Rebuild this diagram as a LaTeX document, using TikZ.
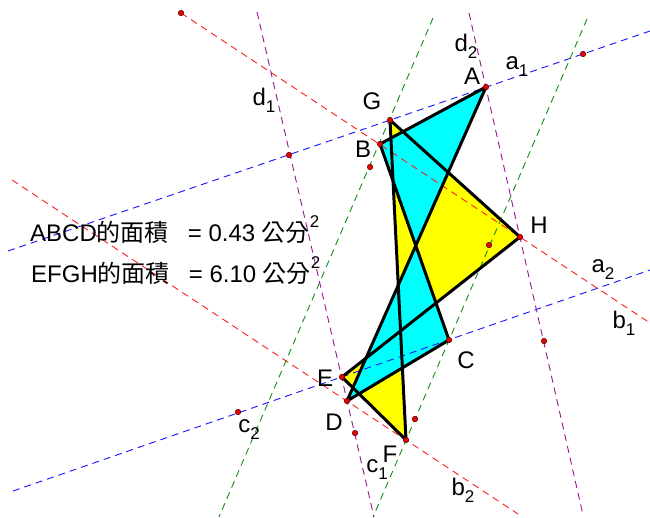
\documentclass[tikz,border=0pt]{standalone}
\usepackage{fontspec}
\setmainfont{Liberation Sans}
\newfontfamily\cjk{Noto Sans CJK TC}
\usepackage{tikz}
\usetikzlibrary{positioning}
\definecolor{GuideRed}{RGB}{255,30,30}
\definecolor{GuideBlue}{RGB}{20,20,255}
\definecolor{GuideGreen}{RGB}{20,140,20}
\definecolor{GuidePurple}{RGB}{150,20,150}
\definecolor{QuadCyan}{RGB}{0,255,255}
\definecolor{QuadYellow}{RGB}{255,255,0}
\definecolor{VtxRed}{RGB}{235,0,0}
\newcommand{\lowidx}[1]{\raisebox{-0.55ex}{\fontsize{17}{17}\selectfont #1}}
\newcommand{\supidx}[1]{\raisebox{1.05ex}{\fontsize{17}{17}\selectfont #1}}

\begin{document}
\begin{tikzpicture}[
  x=1pt, y=-1pt,
  guide/.style={dash pattern=on 7pt off 5pt, line width=0.9pt},
  edge/.style={draw=black, line width=3pt, line join=round},
  vtx/.style={circle, inner sep=0pt, minimum size=5.5pt, fill=VtxRed, draw=black!70!red, line width=0.5pt},
  lbl/.style={font=\fontsize{24}{24}\selectfont, inner sep=0pt},
  area/.style={font=\fontsize{24}{24}\selectfont, inner sep=0pt, anchor=base west}
]
  \useasboundingbox (0,0) rectangle (650,517);

  % vertices of the two quadrilaterals
  \coordinate (A) at (486,87);
  \coordinate (B) at (380,144);
  \coordinate (C) at (449,340);
  \coordinate (D) at (347,401);
  \coordinate (E) at (342,377);
  \coordinate (F) at (406,440);
  \coordinate (G) at (390,120);
  \coordinate (H) at (520,237);

  % ends of the guide lines
  \coordinate (a1w) at (8,251);    \coordinate (a1e) at (650,31);
  \coordinate (a2w) at (13,491);   \coordinate (a2e) at (650,270);
  \coordinate (b1w) at (181,13);   \coordinate (b1e) at (650,323);
  \coordinate (b2w) at (12,180);   \coordinate (b2e) at (518,514);
  \coordinate (c1n) at (587,19);   \coordinate (c1s) at (373,517);
  \coordinate (c2n) at (433,18);   \coordinate (c2s) at (219,517);
  \coordinate (d1n) at (257,12);   \coordinate (d1s) at (374,517);
  \coordinate (d2n) at (469,13);   \coordinate (d2s) at (583,515);

  % fills
  \fill[QuadYellow] (E) -- (F) -- (G) -- (H) -- cycle;
  \fill[QuadCyan] (A) -- (B) -- (C) -- (D) -- cycle;

  % guide lines
  \draw[guide, GuideBlue] (a1w) -- (a1e);
  \draw[guide, GuideBlue] (a2w) -- (a2e);
  \draw[guide, GuideRed] (b1w) -- (b1e);
  \draw[guide, GuideRed] (b2w) -- (b2e);
  \draw[guide, GuideGreen] (c1n) -- (c1s);
  \draw[guide, GuideGreen] (c2n) -- (c2s);
  \draw[guide, GuidePurple] (d1n) -- (d1s);
  \draw[guide, GuidePurple] (d2n) -- (d2s);

  % edges
  \draw[edge] (E) -- (F) -- (G) -- (H) -- cycle;
  \draw[edge] (A) -- (B) -- (C) -- (D) -- cycle;

  % points
  \foreach \p in {A,B,C,D,E,F,G,H,b1w}
    \node[vtx] (v\p) at (\p) {};
  \node[vtx] (p1) at (583,54) {};
  \node[vtx] (p2) at (289,155) {};
  \node[vtx] (p3) at (370,167) {};
  \node[vtx] (p4) at (489,245) {};
  \node[vtx] (p5) at (544,341) {};
  \node[vtx] (p6) at (238,412) {};
  \node[vtx] (p7) at (355,433) {};
  \node[vtx] (p8) at (415,419) {};

  % labels
  \node[lbl] (lA) at (472,76) {A};
  \node[lbl] (lB) at (363,149) {B};
  \node[lbl] (lC) at (466,360) {C};
  \node[lbl] (lD) at (334,422) {D};
  \node[lbl] (lE) at (325,378) {E};
  \node[lbl] (lF) at (390,454) {F};
  \node[lbl] (lG) at (372,101) {G};
  \node[lbl] (lH) at (539,225) {H};
  \node[lbl] (la1) at (517,67) {a\lowidx{1}};
  \node[lbl] (la2) at (603,270) {a\lowidx{2}};
  \node[lbl] (lb1) at (624,323) {b\lowidx{1}};
  \node[lbl] (lb2) at (463,490) {b\lowidx{2}};
  \node[lbl] (lc1) at (377,470) {c\lowidx{1}};
  \node[lbl] (lc2) at (249,430) {c\lowidx{2}};
  \node[lbl] (ld1) at (264,100) {d\lowidx{1}};
  \node[lbl] (ld2) at (466,46) {d\lowidx{2}};

  % area readouts
  \node[area] (areaABCD) at (30,241) {ABCD{\cjk 的面積}\hspace{19pt}= 0.43 {\cjk 公分}\supidx{2}};
  \node[area] (areaEFGH) at (31,282) {EFGH{\cjk 的面積}\hspace{19pt}= 6.10 {\cjk 公分}\supidx{2}};
\end{tikzpicture}
\end{document}
